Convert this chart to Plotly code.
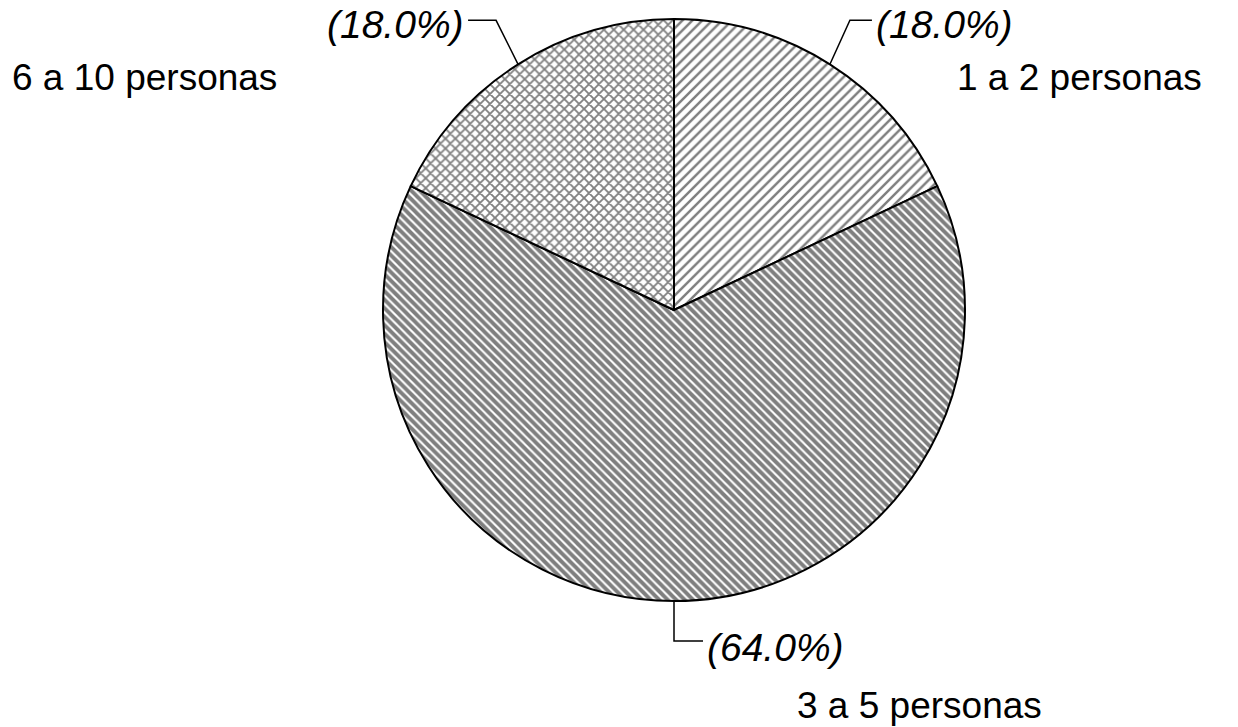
import math
import plotly.graph_objects as go

# Household size distribution
categories = ["1 a 2 personas", "3 a 5 personas", "6 a 10 personas"]
shares = [18.0, 64.0, 18.0]

# Styling per slice
patterns = ["/", "\\", "x"]
pattern_sizes = [7, 6, 7]
pattern_solidity = [0.35, 0.65, 0.45]

W, H = 1238, 727
CX, CY, R = 674, 310, 291  # pie centre and radius in pixels

def px(x):
    return x / W

def py(y):
    return 1 - y / H

fig = go.Figure(
    go.Pie(
        labels=categories,
        values=shares,
        sort=False,
        direction="clockwise",
        rotation=0,
        textinfo="none",
        hoverinfo="label+percent",
        marker=dict(
            colors=["white"] * 3,
            line=dict(color="black", width=2),
            pattern=dict(
                shape=patterns,
                size=pattern_sizes,
                solidity=pattern_solidity,
                fgcolor="black",
                bgcolor="white",
                fillmode="overlay",
            ),
        ),
        domain=dict(x=[px(CX - R), px(CX + R)], y=[py(CY + R), py(CY - R)]),
    )
)

# Leader line bends (dx, dy to elbow, then horizontal run) and label placement
leader_style = {
    "1 a 2 personas": dict(elbow=(20, -44), run=22, pct_dy=4, name_xy=(955, 77)),
    "3 a 5 personas": dict(elbow=(0, 40), run=29, pct_dy=6, name_xy=(795, 705)),
    "6 a 10 personas": dict(elbow=(-22, -44), run=-28, pct_dy=4, name_xy=(10, 77)),
}

total = sum(shares)
start = 0.0
shapes = []
annotations = []
for cat, val in zip(categories, shares):
    frac = val / total
    mid = (start + frac / 2) * 2 * math.pi
    start += frac
    ex = CX + R * math.sin(mid)
    ey = CY - R * math.cos(mid)
    st = leader_style[cat]
    bx, by = ex + st["elbow"][0], ey + st["elbow"][1]
    tx = bx + st["run"]
    shapes.append(dict(
        type="path", xref="paper", yref="paper",
        path=f"M {px(ex)},{py(ey)} L {px(bx)},{py(by)} L {px(tx)},{py(by)}",
        line=dict(color="black", width=1.5),
    ))
    annotations.append(dict(
        x=px(tx + (2 if st["run"] > 0 else -2)), y=py(by + st["pct_dy"]),
        xref="paper", yref="paper",
        text=f"<i>({val:.1f}%)</i>",
        showarrow=False,
        xanchor="left" if st["run"] > 0 else "right",
        yanchor="middle",
        font=dict(family="Liberation Sans", size=39, color="black"),
    ))
    nx, ny = st["name_xy"]
    annotations.append(dict(
        x=px(nx), y=py(ny), xref="paper", yref="paper",
        text=cat, showarrow=False,
        xanchor="left", yanchor="middle",
        font=dict(family="Liberation Sans", size=37, color="black"),
    ))

fig.update_layout(
    width=W, height=H,
    margin=dict(l=0, r=0, t=0, b=0),
    paper_bgcolor="white",
    plot_bgcolor="white",
    showlegend=False,
    shapes=shapes,
    annotations=annotations,
)

fig.write_html("out.html")
